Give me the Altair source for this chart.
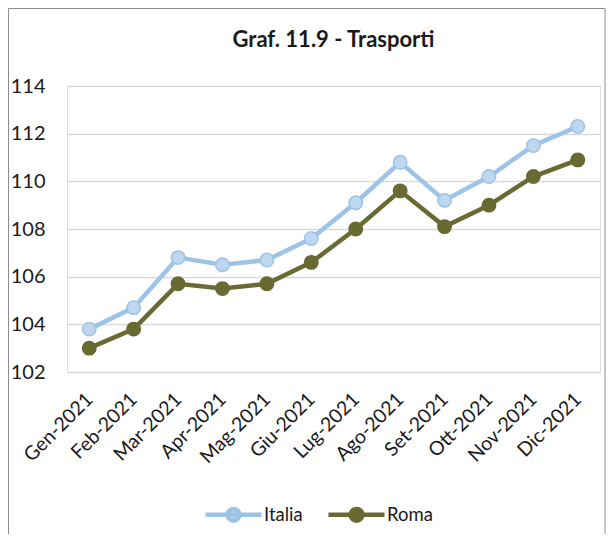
import altair as alt
import pandas as pd

months = ["Gen-2021", "Feb-2021", "Mar-2021", "Apr-2021", "Mag-2021", "Giu-2021",
          "Lug-2021", "Ago-2021", "Set-2021", "Ott-2021", "Nov-2021", "Dic-2021"]
italia = [103.8, 104.7, 106.8, 106.5, 106.7, 107.6, 109.1, 110.8, 109.2, 110.2, 111.5, 112.3]
roma = [103.0, 103.8, 105.7, 105.5, 105.7, 106.6, 108.0, 109.6, 108.1, 109.0, 110.2, 110.9]
series = ["Italia", "Roma"]
y_ticks = [102, 104, 106, 108, 110, 112, 114]

rows = []
for m, v in zip(months, italia):
    rows.append({"mese": m, "serie": "Italia", "valore": v})
for m, v in zip(months, roma):
    rows.append({"mese": m, "serie": "Roma", "valore": v})
df = pd.DataFrame(rows)

FONT = "Lato"
TXT = "#1a1a1a"
line_colors = ["#9DC3E6", "#686A32"]
fill_colors = ["#BDD7EE", "#686A32"]

x_enc = alt.X("mese:N", sort=months, title=None,
              scale=alt.Scale(type="point", padding=0.5),
              axis=alt.Axis(labelAngle=-45, labelAlign="right", labelBaseline="middle",
                            labelFontSize=19.5, labelPadding=24, ticks=False,
                            domain=False, grid=False, labelColor=TXT, labelFont=FONT))
y_enc = alt.Y("valore:Q", title=None,
              scale=alt.Scale(domain=[102, 114], nice=False, zero=False),
              axis=alt.Axis(values=y_ticks, labelFontSize=20, labelPadding=22, ticks=False,
                            domain=False, grid=True, gridColor="#D9D9D9", gridWidth=1.5,
                            labelColor=TXT, labelFont=FONT))

legend_path = ("M-1,0L1,0M0.21,0A0.21,0.21,0,1,1,-0.21,0A0.21,0.21,0,1,1,0.21,0Z")


def make_legend():
    return alt.Legend(title=None, orient="none", direction="horizontal",
                      legendX=136, legendY=398, symbolType=legend_path,
                      symbolSize=3136, symbolStrokeWidth=4.5,
                      labelFontSize=18.5, labelOffset=0, columnPadding=16,
                      labelFont=FONT, labelColor=TXT, padding=0)


stroke_enc = alt.Stroke("serie:N", sort=series,
                        scale=alt.Scale(domain=series, range=line_colors),
                        legend=make_legend())
fill_enc = alt.Fill("serie:N", sort=series,
                    scale=alt.Scale(domain=series, range=fill_colors),
                    legend=make_legend())

base = alt.Chart(df)
lines = base.mark_line(strokeWidth=4.5).encode(x=x_enc, y=y_enc, stroke=stroke_enc,
                                                 detail="serie:N")
points = base.mark_point(filled=False, size=180, strokeWidth=1.5, opacity=1).encode(
    x=x_enc, y=y_enc, stroke=stroke_enc, fill=fill_enc)

frame_data = alt.Data(values=[{}])
border_left = alt.Chart(frame_data).mark_rule(stroke="#8C8C8C", strokeWidth=1).encode(
    x=alt.value(-58.5), y=alt.value(-77.5), y2=alt.value(520))
border_right = alt.Chart(frame_data).mark_rule(stroke="#8C8C8C", strokeWidth=1).encode(
    x=alt.value(538), y=alt.value(-77.5), y2=alt.value(520))
border_top = alt.Chart(frame_data).mark_rule(stroke="#8C8C8C", strokeWidth=1).encode(
    x=alt.value(-58.5), x2=alt.value(538), y=alt.value(-77.5))

chart = alt.layer(border_left, border_right, border_top, lines, points).properties(
    width=533, height=286,
    title=alt.TitleParams("Graf. 11.9 - Trasporti", fontSize=22, fontWeight="bold",
                          font=FONT, color=TXT, offset=-44, frame="group",
                          anchor="middle"),
    autosize=alt.AutoSizeParams(type="none"),
    padding={"left": 59, "top": 78, "right": 6, "bottom": 162},
).configure_view(stroke=None).configure(background="white")

chart.save("out.html", embed_options={"renderer": "svg", "actions": False})
